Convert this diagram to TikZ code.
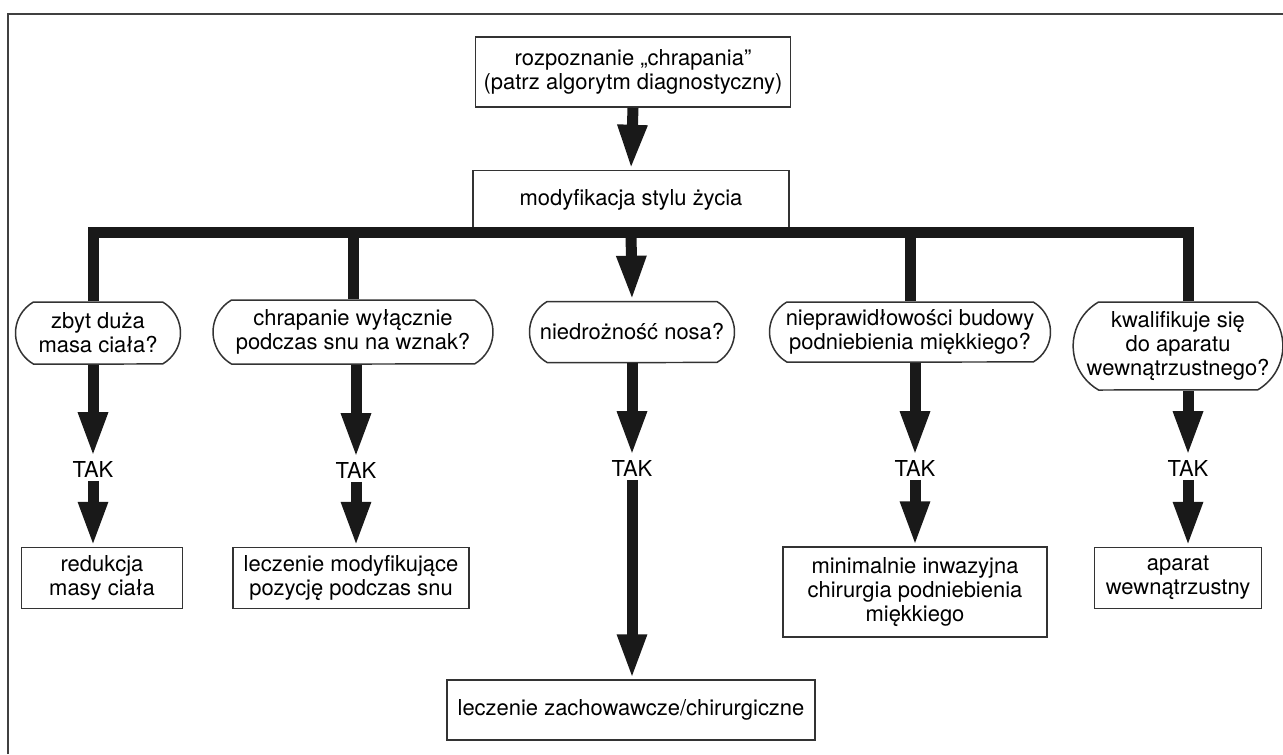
\documentclass[tikz,border=0pt]{standalone}
\usepackage{fontspec}
\setmainfont{TeX Gyre Heros}
\usetikzlibrary{arrows.meta,shapes.misc}
\tikzset{
  box/.style={draw=black!80, line width=0.03cm, fill=white, align=center, inner sep=0pt, font=\fontsize{12.5}{13.6}\selectfont},
  question/.style={box, rounded rectangle, rounded rectangle arc length=120},
  yes/.style={inner sep=0.07cm, font=\fontsize{12.5}{13.6}\selectfont},
  fat/.style={line width=0.22cm, black!90, line join=miter},
  fatarrow/.style={fat, -{Triangle[length=0.9cm,width=0.54cm]}},
}
\begin{document}
\begin{tikzpicture}[x=0.02cm,y=-0.02cm]
\useasboundingbox (0,0) rectangle (1283,754);

% Frame (left and top only)
\draw [line width=0.04cm, black!75] (8,754) -- (8,14) -- (1283,14);%

% Start and common step
\node [box, minimum width=6.3cm, minimum height=1.4cm] (start) at (633,72) {rozpoznanie „chrapania”\\(patrz algorytm diagnostyczny)};%
\node [box, minimum width=6.32cm, minimum height=1.18cm] (life) at (631,200) {modyfikacja stylu życia};%
\coordinate (bar) at (631,232);

% Questions
\node [question, minimum width=3.3cm, minimum height=1.24cm] (q1) at (98,333) {zbyt duża\\masa ciała?};%
\node [question, minimum width=5.6cm, minimum height=1.28cm] (q2) at (353,332) {chrapanie wyłącznie\\podczas snu na wznak?};%
\node [question, minimum width=4.1cm, minimum height=1.22cm] (q3) at (632,332) {niedrożność nosa?};%
\node [question, minimum width=5.62cm, minimum height=1.2cm] (q4) at (910,332) {nieprawidłowości budowy\\podniebienia miękkiego?};%
\node [question, minimum width=4.14cm, minimum height=1.76cm] (q5) at (1178,346) {kwalifikuje się\\do aparatu\\wewnątrzustnego?};%

% Answers
\node [yes] (t1) at (93,469) {TAK};%
\node [yes] (t2) at (356,470) {TAK};%
\node [yes] (t3) at (632,468) {TAK};%
\node [yes] (t4) at (915,468) {TAK};%
\node [yes] (t5) at (1188,468) {TAK};%

% Treatments
\node [box, minimum width=3.22cm, minimum height=1.22cm] (b1) at (102,578) {redukcja\\masy ciała};%
\node [box, minimum width=4.72cm, minimum height=1.22cm] (b2) at (351,578) {leczenie modyfikujące\\pozycję podczas snu};%
\node [box, minimum width=7.36cm, minimum height=1.2cm] (b3) at (631,710) {leczenie zachowawcze/chirurgiczne};%
\node [box, minimum width=5.28cm, minimum height=1.8cm] (b4) at (915,592) {minimalnie inwazyjna\\chirurgia podniebienia\\miękkiego};%
\node [box, minimum width=3.34cm, minimum height=1.22cm] (b5) at (1178,578) {aparat\\wewnątrzustny};%

% Drawing the branches
\draw [fatarrow] (start.south) -- (life.north);%
\draw [fat] (t1 |- q1.north) -- (t1 |- bar) -- (t5 |- bar) -- (t5 |- q5.north);%
\draw [fat] (q2.north |- bar) -- (q2.north);%
\draw [fat] (q4.north |- bar) -- (q4.north);%
\draw [fatarrow] (life.south) -- (q3.north);%

% Drawing arrows to TAK and on
\draw [fatarrow] (t1 |- q1.south) -- (t1.north);%
\draw [fatarrow] (t1.south) -- (t1 |- b1.north);%
\draw [fatarrow] (t2 |- q2.south) -- (t2.north);%
\draw [fatarrow] (t2.south) -- (t2 |- b2.north);%
\draw [fatarrow] (t3 |- q3.south) -- (t3.north);%
\draw [fatarrow] (t3.south) -- (t3 |- b3.north);%
\draw [fatarrow] (t4 |- q4.south) -- (t4.north);%
\draw [fatarrow] (t4.south) -- (t4 |- b4.north);%
\draw [fatarrow] (t5 |- q5.south) -- (t5.north);%
\draw [fatarrow] (t5.south) -- (t5 |- b5.north);%
\end{tikzpicture}
\end{document}
